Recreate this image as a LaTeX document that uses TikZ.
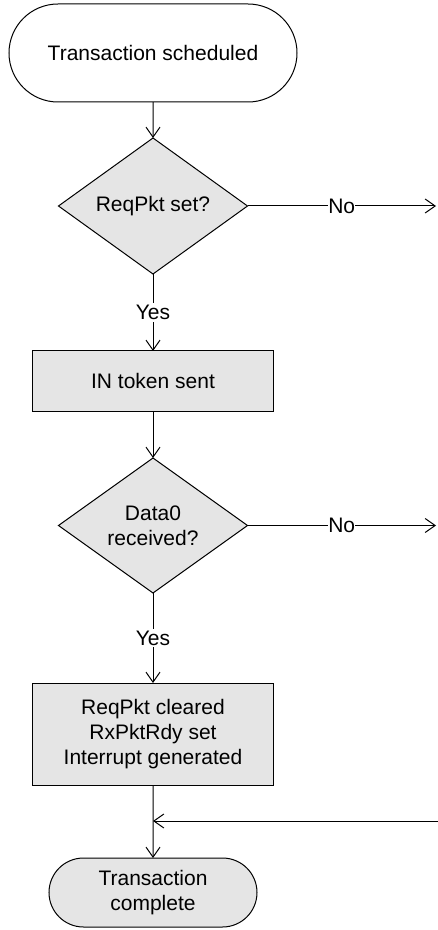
\documentclass[tikz,border=0pt]{standalone}
\usepackage{fontspec}
\setmainfont{Liberation Sans}
\usetikzlibrary{positioning, arrows.meta, shapes.geometric, shapes.misc}

\begin{document}
\begin{tikzpicture}[
  term/.style={
    rounded rectangle, draw, line width=0.5pt,
    minimum width=144pt, minimum height=49pt,
    align=center, font=\fontsize{10.5}{12.5}\selectfont,
    inner sep=0pt, outer sep=0pt
  },
  decision/.style={
    diamond, draw, line width=0.5pt, fill=gray!20,
    minimum width=94.5pt, minimum height=68pt, aspect=1.39,
    align=center, font=\fontsize{10.5}{12.5}\selectfont,
    inner sep=0pt, outer sep=0pt
  },
  process/.style={
    rectangle, draw, line width=0.5pt, fill=gray!20,
    minimum width=120pt, minimum height=30pt,
    align=center, font=\fontsize{10.5}{12.5}\selectfont,
    inner sep=0pt, outer sep=0pt
  },
  lbl/.style={
    fill=white, inner sep=1pt, font=\fontsize{10.5}{12.5}\selectfont
  },
  arr/.style={
    -{Straight Barb[length=5pt, width=7pt, line width=0.5pt]}, line width=0.5pt
  }
]

% ================= Frame =================
\useasboundingbox (-76.5pt,26.5pt) rectangle (142.5pt,-438.5pt);
\coordinate (rim) at (141.5pt,0);

% ================= Main flow =================
\node[term] (start) at (0,0) {Transaction scheduled};
\node[decision, below=18pt of start] (reqset) {ReqPkt set?};
\node[process, below=38.5pt of reqset] (intoken) {IN token sent};
\node[decision, minimum height=67.5pt, below=23.5pt of intoken] (data0) {Data0\\received?};
\node[process, minimum height=51pt, below=45pt of data0] (cleared) {ReqPkt cleared\\RxPktRdy set\\Interrupt generated};
\node[term, fill=gray!20, minimum width=104pt, minimum height=34.5pt, below=36.5pt of cleared] (done) {Transaction\\complete};

% ================= Connections =================
\draw[arr] (start) -- (reqset);
\draw[arr] (reqset) -- node[lbl] {Yes} (intoken);
\draw[arr] (intoken) -- (data0);
\draw[arr] (data0) -- node[lbl] {Yes} (cleared);
\draw[arr] (cleared) -- (done);

% ================= No branches =================
\draw[arr] (reqset.east) -- node[lbl, inner sep=0pt] {No} (reqset.east -| rim);
\draw[arr] (data0.east) -- node[lbl, inner sep=0pt] {No} (data0.east -| rim);

% ================= Return path =================
\coordinate (join) at ([yshift=-18pt]cleared.south);
\coordinate (back) at ([xshift=1pt]join -| rim);
\draw[arr] (back) -- (join);

\end{tikzpicture}
\end{document}
